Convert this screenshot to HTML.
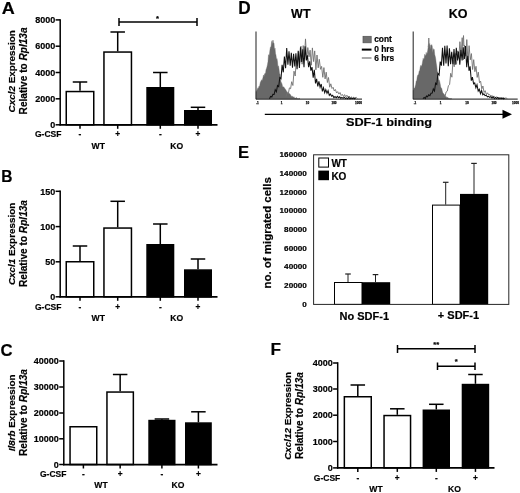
<!DOCTYPE html>
<html><head><meta charset="utf-8"><title>Figure</title>
<style>html,body{margin:0;padding:0;background:#fff;}body{width:520px;height:493px;overflow:hidden;font-family:"Liberation Sans",sans-serif;}svg{display:block;filter:grayscale(1) blur(0.35px);}</style>
</head><body>
<svg width="520" height="493" viewBox="0 0 520 493">
<rect width="520" height="493" fill="#fff"/>
<text x="1.8" y="13.9" font-size="16.7" text-anchor="start" font-family="Liberation Sans, sans-serif" font-weight="bold" stroke="#000" stroke-width="0.18"  textLength="13" lengthAdjust="spacingAndGlyphs">A</text>
<line x1="80.0" y1="82" x2="80.0" y2="90.8" stroke="#000" stroke-width="1.5" stroke-linecap="butt"/>
<line x1="72.75" y1="82" x2="87.25" y2="82" stroke="#000" stroke-width="1.5" stroke-linecap="butt"/>
<line x1="117.69999999999999" y1="32" x2="117.69999999999999" y2="51.3" stroke="#000" stroke-width="1.5" stroke-linecap="butt"/>
<line x1="110.44999999999999" y1="32" x2="124.94999999999999" y2="32" stroke="#000" stroke-width="1.5" stroke-linecap="butt"/>
<line x1="160.3" y1="72.5" x2="160.3" y2="87" stroke="#000" stroke-width="1.5" stroke-linecap="butt"/>
<line x1="153.05" y1="72.5" x2="167.55" y2="72.5" stroke="#000" stroke-width="1.5" stroke-linecap="butt"/>
<line x1="198.0" y1="107.3" x2="198.0" y2="110" stroke="#000" stroke-width="1.5" stroke-linecap="butt"/>
<line x1="190.75" y1="107.3" x2="205.25" y2="107.3" stroke="#000" stroke-width="1.5" stroke-linecap="butt"/>
<rect x="66.25" y="91.55" width="27.5" height="33.25" fill="#fff" stroke="#000" stroke-width="1.5"/>
<rect x="103.95" y="52.05" width="27.499999999999986" height="72.75" fill="#fff" stroke="#000" stroke-width="1.5"/>
<rect x="147.05" y="87.75" width="26.5" height="37.05" fill="#000" stroke="#000" stroke-width="1.5"/>
<rect x="184.75" y="110.75" width="26.5" height="14.049999999999997" fill="#000" stroke="#000" stroke-width="1.5"/>
<line x1="60.2" y1="19.15" x2="60.2" y2="125.55" stroke="#000" stroke-width="1.5" stroke-linecap="butt"/>
<line x1="59.45" y1="124.85" x2="217.5" y2="124.85" stroke="#000" stroke-width="1.7" stroke-linecap="butt"/>
<line x1="55.6" y1="19.9" x2="60.2" y2="19.9" stroke="#000" stroke-width="1.5" stroke-linecap="butt"/>
<text x="55.2" y="23.099999999999998" font-size="9" text-anchor="end" font-family="Liberation Sans, sans-serif" font-weight="bold" stroke="#000" stroke-width="0.18" >8000</text>
<line x1="55.6" y1="46.2" x2="60.2" y2="46.2" stroke="#000" stroke-width="1.5" stroke-linecap="butt"/>
<text x="55.2" y="49.400000000000006" font-size="9" text-anchor="end" font-family="Liberation Sans, sans-serif" font-weight="bold" stroke="#000" stroke-width="0.18" >6000</text>
<line x1="55.6" y1="72.5" x2="60.2" y2="72.5" stroke="#000" stroke-width="1.5" stroke-linecap="butt"/>
<text x="55.2" y="75.7" font-size="9" text-anchor="end" font-family="Liberation Sans, sans-serif" font-weight="bold" stroke="#000" stroke-width="0.18" >4000</text>
<line x1="55.6" y1="98.8" x2="60.2" y2="98.8" stroke="#000" stroke-width="1.5" stroke-linecap="butt"/>
<text x="55.2" y="102.0" font-size="9" text-anchor="end" font-family="Liberation Sans, sans-serif" font-weight="bold" stroke="#000" stroke-width="0.18" >2000</text>
<line x1="55.6" y1="124.8" x2="60.2" y2="124.8" stroke="#000" stroke-width="1.5" stroke-linecap="butt"/>
<text x="55.2" y="128.0" font-size="9" text-anchor="end" font-family="Liberation Sans, sans-serif" font-weight="bold" stroke="#000" stroke-width="0.18" >0</text>
<line x1="80.0" y1="124.8" x2="80.0" y2="128.8" stroke="#000" stroke-width="1.5" stroke-linecap="butt"/>
<line x1="117.69999999999999" y1="124.8" x2="117.69999999999999" y2="128.8" stroke="#000" stroke-width="1.5" stroke-linecap="butt"/>
<line x1="160.3" y1="124.8" x2="160.3" y2="128.8" stroke="#000" stroke-width="1.5" stroke-linecap="butt"/>
<line x1="198.0" y1="124.8" x2="198.0" y2="128.8" stroke="#000" stroke-width="1.5" stroke-linecap="butt"/>
<text transform="translate(14.6,71.30000000000001) rotate(-90)" font-size="9.9" text-anchor="middle" font-family="Liberation Sans, sans-serif" font-weight="bold" stroke="#000" stroke-width="0.18"><tspan font-style="italic">Cxcl2</tspan> Expression</text>
<text transform="translate(27.2,70.9) rotate(-90)" font-size="10.1" text-anchor="middle" font-family="Liberation Sans, sans-serif" font-weight="bold" stroke="#000" stroke-width="0.18">Relative to <tspan font-style="italic">Rpl13a</tspan></text>
<text x="35" y="137.1" font-size="8.5" text-anchor="start" font-family="Liberation Sans, sans-serif" font-weight="bold" stroke="#000" stroke-width="0.18" >G-CSF</text>
<text x="80.0" y="137.4" font-size="8.3" text-anchor="middle" font-family="Liberation Sans, sans-serif" font-weight="bold" stroke="#000" stroke-width="0.18" >-</text>
<text x="117.69999999999999" y="137.4" font-size="8.3" text-anchor="middle" font-family="Liberation Sans, sans-serif" font-weight="bold" stroke="#000" stroke-width="0.18" >+</text>
<text x="160.3" y="137.4" font-size="8.3" text-anchor="middle" font-family="Liberation Sans, sans-serif" font-weight="bold" stroke="#000" stroke-width="0.18" >-</text>
<text x="198.0" y="137.4" font-size="8.3" text-anchor="middle" font-family="Liberation Sans, sans-serif" font-weight="bold" stroke="#000" stroke-width="0.18" >+</text>
<text x="98.3" y="148.7" font-size="8.6" text-anchor="middle" font-family="Liberation Sans, sans-serif" font-weight="bold" stroke="#000" stroke-width="0.18" >WT</text>
<text x="176.8" y="148.7" font-size="8.6" text-anchor="middle" font-family="Liberation Sans, sans-serif" font-weight="bold" stroke="#000" stroke-width="0.18" >KO</text>
<line x1="119" y1="22" x2="197" y2="22" stroke="#000" stroke-width="1.5" stroke-linecap="butt"/>
<line x1="119" y1="18" x2="119" y2="26" stroke="#000" stroke-width="1.5" stroke-linecap="butt"/>
<line x1="197" y1="18" x2="197" y2="26" stroke="#000" stroke-width="1.5" stroke-linecap="butt"/>
<text x="157.4" y="20.5" font-size="7.6" text-anchor="middle" font-family="Liberation Sans, sans-serif" font-weight="bold" stroke="#000" stroke-width="0.18" >*</text>
<text x="1.2" y="182.2" font-size="16.8" text-anchor="start" font-family="Liberation Sans, sans-serif" font-weight="bold" stroke="#000" stroke-width="0.18"  textLength="11.2" lengthAdjust="spacingAndGlyphs">B</text>
<line x1="80.0" y1="246" x2="80.0" y2="261" stroke="#000" stroke-width="1.5" stroke-linecap="butt"/>
<line x1="72.75" y1="246" x2="87.25" y2="246" stroke="#000" stroke-width="1.5" stroke-linecap="butt"/>
<line x1="117.69999999999999" y1="201.3" x2="117.69999999999999" y2="227.3" stroke="#000" stroke-width="1.5" stroke-linecap="butt"/>
<line x1="110.44999999999999" y1="201.3" x2="124.94999999999999" y2="201.3" stroke="#000" stroke-width="1.5" stroke-linecap="butt"/>
<line x1="160.3" y1="224" x2="160.3" y2="244" stroke="#000" stroke-width="1.5" stroke-linecap="butt"/>
<line x1="153.05" y1="224" x2="167.55" y2="224" stroke="#000" stroke-width="1.5" stroke-linecap="butt"/>
<line x1="198.0" y1="259" x2="198.0" y2="269.3" stroke="#000" stroke-width="1.5" stroke-linecap="butt"/>
<line x1="190.75" y1="259" x2="205.25" y2="259" stroke="#000" stroke-width="1.5" stroke-linecap="butt"/>
<rect x="66.25" y="261.75" width="27.5" height="35.05000000000001" fill="#fff" stroke="#000" stroke-width="1.5"/>
<rect x="103.95" y="228.05" width="27.499999999999986" height="68.75" fill="#fff" stroke="#000" stroke-width="1.5"/>
<rect x="147.05" y="244.75" width="26.5" height="52.05000000000001" fill="#000" stroke="#000" stroke-width="1.5"/>
<rect x="184.75" y="270.05" width="26.5" height="26.75" fill="#000" stroke="#000" stroke-width="1.5"/>
<line x1="60.2" y1="190.55" x2="60.2" y2="297.55" stroke="#000" stroke-width="1.5" stroke-linecap="butt"/>
<line x1="59.45" y1="296.85" x2="217.5" y2="296.85" stroke="#000" stroke-width="1.7" stroke-linecap="butt"/>
<line x1="55.6" y1="191.3" x2="60.2" y2="191.3" stroke="#000" stroke-width="1.5" stroke-linecap="butt"/>
<text x="55.2" y="194.5" font-size="9" text-anchor="end" font-family="Liberation Sans, sans-serif" font-weight="bold" stroke="#000" stroke-width="0.18" >150</text>
<line x1="55.6" y1="226.6" x2="60.2" y2="226.6" stroke="#000" stroke-width="1.5" stroke-linecap="butt"/>
<text x="55.2" y="229.79999999999998" font-size="9" text-anchor="end" font-family="Liberation Sans, sans-serif" font-weight="bold" stroke="#000" stroke-width="0.18" >100</text>
<line x1="55.6" y1="261.8" x2="60.2" y2="261.8" stroke="#000" stroke-width="1.5" stroke-linecap="butt"/>
<text x="55.2" y="265.0" font-size="9" text-anchor="end" font-family="Liberation Sans, sans-serif" font-weight="bold" stroke="#000" stroke-width="0.18" >50</text>
<line x1="55.6" y1="296.8" x2="60.2" y2="296.8" stroke="#000" stroke-width="1.5" stroke-linecap="butt"/>
<text x="55.2" y="300.0" font-size="9" text-anchor="end" font-family="Liberation Sans, sans-serif" font-weight="bold" stroke="#000" stroke-width="0.18" >0</text>
<line x1="80.0" y1="296.8" x2="80.0" y2="300.8" stroke="#000" stroke-width="1.5" stroke-linecap="butt"/>
<line x1="117.69999999999999" y1="296.8" x2="117.69999999999999" y2="300.8" stroke="#000" stroke-width="1.5" stroke-linecap="butt"/>
<line x1="160.3" y1="296.8" x2="160.3" y2="300.8" stroke="#000" stroke-width="1.5" stroke-linecap="butt"/>
<line x1="198.0" y1="296.8" x2="198.0" y2="300.8" stroke="#000" stroke-width="1.5" stroke-linecap="butt"/>
<text transform="translate(14.6,243.9) rotate(-90)" font-size="9.9" text-anchor="middle" font-family="Liberation Sans, sans-serif" font-weight="bold" stroke="#000" stroke-width="0.18"><tspan font-style="italic">Cxcl1</tspan> Expression</text>
<text transform="translate(27.2,243.5) rotate(-90)" font-size="10.1" text-anchor="middle" font-family="Liberation Sans, sans-serif" font-weight="bold" stroke="#000" stroke-width="0.18">Relative to <tspan font-style="italic">Rpl13a</tspan></text>
<text x="35" y="309.6" font-size="8.5" text-anchor="start" font-family="Liberation Sans, sans-serif" font-weight="bold" stroke="#000" stroke-width="0.18" >G-CSF</text>
<text x="80.0" y="309.9" font-size="8.3" text-anchor="middle" font-family="Liberation Sans, sans-serif" font-weight="bold" stroke="#000" stroke-width="0.18" >-</text>
<text x="117.69999999999999" y="309.9" font-size="8.3" text-anchor="middle" font-family="Liberation Sans, sans-serif" font-weight="bold" stroke="#000" stroke-width="0.18" >+</text>
<text x="160.3" y="309.9" font-size="8.3" text-anchor="middle" font-family="Liberation Sans, sans-serif" font-weight="bold" stroke="#000" stroke-width="0.18" >-</text>
<text x="198.0" y="309.9" font-size="8.3" text-anchor="middle" font-family="Liberation Sans, sans-serif" font-weight="bold" stroke="#000" stroke-width="0.18" >+</text>
<text x="98.3" y="320.6" font-size="8.6" text-anchor="middle" font-family="Liberation Sans, sans-serif" font-weight="bold" stroke="#000" stroke-width="0.18" >WT</text>
<text x="176.8" y="320.6" font-size="8.6" text-anchor="middle" font-family="Liberation Sans, sans-serif" font-weight="bold" stroke="#000" stroke-width="0.18" >KO</text>
<text x="0.6" y="355.7" font-size="17.2" text-anchor="start" font-family="Liberation Sans, sans-serif" font-weight="bold" stroke="#000" stroke-width="0.18"  textLength="12.1" lengthAdjust="spacingAndGlyphs">C</text>
<line x1="120.15" y1="374.5" x2="120.15" y2="391.3" stroke="#000" stroke-width="1.5" stroke-linecap="butt"/>
<line x1="112.9" y1="374.5" x2="127.4" y2="374.5" stroke="#000" stroke-width="1.5" stroke-linecap="butt"/>
<line x1="161.9" y1="419" x2="161.9" y2="419.8" stroke="#000" stroke-width="1.5" stroke-linecap="butt"/>
<line x1="154.65" y1="419" x2="169.15" y2="419" stroke="#000" stroke-width="1.5" stroke-linecap="butt"/>
<line x1="198.4" y1="411.8" x2="198.4" y2="422.3" stroke="#000" stroke-width="1.5" stroke-linecap="butt"/>
<line x1="191.15" y1="411.8" x2="205.65" y2="411.8" stroke="#000" stroke-width="1.5" stroke-linecap="butt"/>
<rect x="70.05" y="426.75" width="26.700000000000003" height="37.75" fill="#fff" stroke="#000" stroke-width="1.5"/>
<rect x="106.95" y="392.05" width="26.39999999999999" height="72.44999999999999" fill="#fff" stroke="#000" stroke-width="1.5"/>
<rect x="149.05" y="420.55" width="25.69999999999999" height="43.94999999999999" fill="#000" stroke="#000" stroke-width="1.5"/>
<rect x="185.75" y="423.05" width="25.30000000000001" height="41.44999999999999" fill="#000" stroke="#000" stroke-width="1.5"/>
<line x1="63.8" y1="360.25" x2="63.8" y2="465.25" stroke="#000" stroke-width="1.5" stroke-linecap="butt"/>
<line x1="63.05" y1="464.55" x2="217.5" y2="464.55" stroke="#000" stroke-width="1.7" stroke-linecap="butt"/>
<line x1="59.199999999999996" y1="361" x2="63.8" y2="361" stroke="#000" stroke-width="1.5" stroke-linecap="butt"/>
<text x="58.8" y="364.2" font-size="9" text-anchor="end" font-family="Liberation Sans, sans-serif" font-weight="bold" stroke="#000" stroke-width="0.18" >40000</text>
<line x1="59.199999999999996" y1="387" x2="63.8" y2="387" stroke="#000" stroke-width="1.5" stroke-linecap="butt"/>
<text x="58.8" y="390.2" font-size="9" text-anchor="end" font-family="Liberation Sans, sans-serif" font-weight="bold" stroke="#000" stroke-width="0.18" >30000</text>
<line x1="59.199999999999996" y1="413" x2="63.8" y2="413" stroke="#000" stroke-width="1.5" stroke-linecap="butt"/>
<text x="58.8" y="416.2" font-size="9" text-anchor="end" font-family="Liberation Sans, sans-serif" font-weight="bold" stroke="#000" stroke-width="0.18" >20000</text>
<line x1="59.199999999999996" y1="438.8" x2="63.8" y2="438.8" stroke="#000" stroke-width="1.5" stroke-linecap="butt"/>
<text x="58.8" y="442.0" font-size="9" text-anchor="end" font-family="Liberation Sans, sans-serif" font-weight="bold" stroke="#000" stroke-width="0.18" >10000</text>
<line x1="59.199999999999996" y1="464.5" x2="63.8" y2="464.5" stroke="#000" stroke-width="1.5" stroke-linecap="butt"/>
<text x="58.8" y="467.7" font-size="9" text-anchor="end" font-family="Liberation Sans, sans-serif" font-weight="bold" stroke="#000" stroke-width="0.18" >0</text>
<line x1="83.4" y1="464.5" x2="83.4" y2="468.5" stroke="#000" stroke-width="1.5" stroke-linecap="butt"/>
<line x1="120.15" y1="464.5" x2="120.15" y2="468.5" stroke="#000" stroke-width="1.5" stroke-linecap="butt"/>
<line x1="161.9" y1="464.5" x2="161.9" y2="468.5" stroke="#000" stroke-width="1.5" stroke-linecap="butt"/>
<line x1="198.4" y1="464.5" x2="198.4" y2="468.5" stroke="#000" stroke-width="1.5" stroke-linecap="butt"/>
<text transform="translate(14.6,412.9) rotate(-90)" font-size="9.9" text-anchor="middle" font-family="Liberation Sans, sans-serif" font-weight="bold" stroke="#000" stroke-width="0.18"><tspan font-style="italic">Il8rb</tspan> Expression</text>
<text transform="translate(27.2,412.5) rotate(-90)" font-size="10.1" text-anchor="middle" font-family="Liberation Sans, sans-serif" font-weight="bold" stroke="#000" stroke-width="0.18">Relative to <tspan font-style="italic">Rpl13a</tspan></text>
<text x="40" y="476.6" font-size="8.5" text-anchor="start" font-family="Liberation Sans, sans-serif" font-weight="bold" stroke="#000" stroke-width="0.18" >G-CSF</text>
<text x="83.4" y="476.9" font-size="8.3" text-anchor="middle" font-family="Liberation Sans, sans-serif" font-weight="bold" stroke="#000" stroke-width="0.18" >-</text>
<text x="120.15" y="476.9" font-size="8.3" text-anchor="middle" font-family="Liberation Sans, sans-serif" font-weight="bold" stroke="#000" stroke-width="0.18" >+</text>
<text x="161.9" y="476.9" font-size="8.3" text-anchor="middle" font-family="Liberation Sans, sans-serif" font-weight="bold" stroke="#000" stroke-width="0.18" >-</text>
<text x="198.4" y="476.9" font-size="8.3" text-anchor="middle" font-family="Liberation Sans, sans-serif" font-weight="bold" stroke="#000" stroke-width="0.18" >+</text>
<text x="101" y="488.1" font-size="8.6" text-anchor="middle" font-family="Liberation Sans, sans-serif" font-weight="bold" stroke="#000" stroke-width="0.18" >WT</text>
<text x="178" y="488.1" font-size="8.6" text-anchor="middle" font-family="Liberation Sans, sans-serif" font-weight="bold" stroke="#000" stroke-width="0.18" >KO</text>
<text x="270.6" y="355" font-size="17.2" text-anchor="start" font-family="Liberation Sans, sans-serif" font-weight="bold" stroke="#000" stroke-width="0.18"  textLength="10.5" lengthAdjust="spacingAndGlyphs">F</text>
<line x1="357.8" y1="385" x2="357.8" y2="396" stroke="#000" stroke-width="1.5" stroke-linecap="butt"/>
<line x1="350.55" y1="385" x2="365.05" y2="385" stroke="#000" stroke-width="1.5" stroke-linecap="butt"/>
<line x1="397.3" y1="408.8" x2="397.3" y2="414.8" stroke="#000" stroke-width="1.5" stroke-linecap="butt"/>
<line x1="390.05" y1="408.8" x2="404.55" y2="408.8" stroke="#000" stroke-width="1.5" stroke-linecap="butt"/>
<line x1="436.3" y1="404.3" x2="436.3" y2="409.5" stroke="#000" stroke-width="1.5" stroke-linecap="butt"/>
<line x1="429.05" y1="404.3" x2="443.55" y2="404.3" stroke="#000" stroke-width="1.5" stroke-linecap="butt"/>
<line x1="475.45" y1="374.5" x2="475.45" y2="383.8" stroke="#000" stroke-width="1.5" stroke-linecap="butt"/>
<line x1="468.2" y1="374.5" x2="482.7" y2="374.5" stroke="#000" stroke-width="1.5" stroke-linecap="butt"/>
<rect x="344.35" y="396.75" width="26.899999999999977" height="71.14999999999998" fill="#fff" stroke="#000" stroke-width="1.5"/>
<rect x="384.05" y="415.55" width="26.5" height="52.349999999999966" fill="#fff" stroke="#000" stroke-width="1.5"/>
<rect x="423.35" y="410.25" width="25.899999999999977" height="57.64999999999998" fill="#000" stroke="#000" stroke-width="1.5"/>
<rect x="462.45" y="384.55" width="26.0" height="83.34999999999997" fill="#000" stroke="#000" stroke-width="1.5"/>
<line x1="337.7" y1="362.25" x2="337.7" y2="468.65" stroke="#000" stroke-width="1.5" stroke-linecap="butt"/>
<line x1="336.95" y1="467.95" x2="494.5" y2="467.95" stroke="#000" stroke-width="1.7" stroke-linecap="butt"/>
<line x1="333.09999999999997" y1="363" x2="337.7" y2="363" stroke="#000" stroke-width="1.5" stroke-linecap="butt"/>
<text x="332.7" y="366.2" font-size="9" text-anchor="end" font-family="Liberation Sans, sans-serif" font-weight="bold" stroke="#000" stroke-width="0.18" >4000</text>
<line x1="333.09999999999997" y1="389" x2="337.7" y2="389" stroke="#000" stroke-width="1.5" stroke-linecap="butt"/>
<text x="332.7" y="392.2" font-size="9" text-anchor="end" font-family="Liberation Sans, sans-serif" font-weight="bold" stroke="#000" stroke-width="0.18" >3000</text>
<line x1="333.09999999999997" y1="415.2" x2="337.7" y2="415.2" stroke="#000" stroke-width="1.5" stroke-linecap="butt"/>
<text x="332.7" y="418.4" font-size="9" text-anchor="end" font-family="Liberation Sans, sans-serif" font-weight="bold" stroke="#000" stroke-width="0.18" >2000</text>
<line x1="333.09999999999997" y1="441.5" x2="337.7" y2="441.5" stroke="#000" stroke-width="1.5" stroke-linecap="butt"/>
<text x="332.7" y="444.7" font-size="9" text-anchor="end" font-family="Liberation Sans, sans-serif" font-weight="bold" stroke="#000" stroke-width="0.18" >1000</text>
<line x1="333.09999999999997" y1="467.9" x2="337.7" y2="467.9" stroke="#000" stroke-width="1.5" stroke-linecap="butt"/>
<text x="332.7" y="471.09999999999997" font-size="9" text-anchor="end" font-family="Liberation Sans, sans-serif" font-weight="bold" stroke="#000" stroke-width="0.18" >0</text>
<line x1="357.8" y1="467.9" x2="357.8" y2="471.9" stroke="#000" stroke-width="1.5" stroke-linecap="butt"/>
<line x1="397.3" y1="467.9" x2="397.3" y2="471.9" stroke="#000" stroke-width="1.5" stroke-linecap="butt"/>
<line x1="436.3" y1="467.9" x2="436.3" y2="471.9" stroke="#000" stroke-width="1.5" stroke-linecap="butt"/>
<line x1="475.45" y1="467.9" x2="475.45" y2="471.9" stroke="#000" stroke-width="1.5" stroke-linecap="butt"/>
<text transform="translate(290.5,415.9) rotate(-90)" font-size="9.9" text-anchor="middle" font-family="Liberation Sans, sans-serif" font-weight="bold" stroke="#000" stroke-width="0.18"><tspan font-style="italic">Cxcl12</tspan> Expression</text>
<text transform="translate(302.5,415.5) rotate(-90)" font-size="10.1" text-anchor="middle" font-family="Liberation Sans, sans-serif" font-weight="bold" stroke="#000" stroke-width="0.18">Relative to <tspan font-style="italic">Rpl13a</tspan></text>
<text x="313.8" y="480.6" font-size="8.5" text-anchor="start" font-family="Liberation Sans, sans-serif" font-weight="bold" stroke="#000" stroke-width="0.18" >G-CSF</text>
<text x="357.8" y="480.9" font-size="8.3" text-anchor="middle" font-family="Liberation Sans, sans-serif" font-weight="bold" stroke="#000" stroke-width="0.18" >-</text>
<text x="397.3" y="480.9" font-size="8.3" text-anchor="middle" font-family="Liberation Sans, sans-serif" font-weight="bold" stroke="#000" stroke-width="0.18" >+</text>
<text x="436.3" y="480.9" font-size="8.3" text-anchor="middle" font-family="Liberation Sans, sans-serif" font-weight="bold" stroke="#000" stroke-width="0.18" >-</text>
<text x="475.45" y="480.9" font-size="8.3" text-anchor="middle" font-family="Liberation Sans, sans-serif" font-weight="bold" stroke="#000" stroke-width="0.18" >+</text>
<text x="376" y="491.8" font-size="8.6" text-anchor="middle" font-family="Liberation Sans, sans-serif" font-weight="bold" stroke="#000" stroke-width="0.18" >WT</text>
<text x="454.4" y="491.8" font-size="8.6" text-anchor="middle" font-family="Liberation Sans, sans-serif" font-weight="bold" stroke="#000" stroke-width="0.18" >KO</text>
<line x1="397.5" y1="348.8" x2="475" y2="348.8" stroke="#000" stroke-width="1.5" stroke-linecap="butt"/>
<line x1="397.5" y1="345" x2="397.5" y2="353" stroke="#000" stroke-width="1.5" stroke-linecap="butt"/>
<line x1="475" y1="345" x2="475" y2="353" stroke="#000" stroke-width="1.5" stroke-linecap="butt"/>
<text x="436.3" y="347.4" font-size="7.6" text-anchor="middle" font-family="Liberation Sans, sans-serif" font-weight="bold" stroke="#000" stroke-width="0.18" >**</text>
<line x1="437.5" y1="366.3" x2="475" y2="366.3" stroke="#000" stroke-width="1.5" stroke-linecap="butt"/>
<line x1="437.5" y1="362.5" x2="437.5" y2="370" stroke="#000" stroke-width="1.5" stroke-linecap="butt"/>
<line x1="475" y1="362.5" x2="475" y2="370" stroke="#000" stroke-width="1.5" stroke-linecap="butt"/>
<text x="456.3" y="364.4" font-size="7.6" text-anchor="middle" font-family="Liberation Sans, sans-serif" font-weight="bold" stroke="#000" stroke-width="0.18" >*</text>
<text x="238.1" y="157.9" font-size="16.8" text-anchor="start" font-family="Liberation Sans, sans-serif" font-weight="bold" stroke="#000" stroke-width="0.18"  textLength="11.1" lengthAdjust="spacingAndGlyphs">E</text>
<line x1="348" y1="274" x2="348" y2="282" stroke="#222" stroke-width="1" stroke-linecap="butt"/>
<line x1="345.2" y1="274" x2="350.8" y2="274" stroke="#222" stroke-width="1.2" stroke-linecap="butt"/>
<line x1="375.5" y1="274.6" x2="375.5" y2="282" stroke="#222" stroke-width="1" stroke-linecap="butt"/>
<line x1="372.7" y1="274.6" x2="378.3" y2="274.6" stroke="#222" stroke-width="1.2" stroke-linecap="butt"/>
<line x1="445.7" y1="182.3" x2="445.7" y2="204.6" stroke="#222" stroke-width="1" stroke-linecap="butt"/>
<line x1="442.9" y1="182.3" x2="448.5" y2="182.3" stroke="#222" stroke-width="1.2" stroke-linecap="butt"/>
<line x1="474" y1="163.4" x2="474" y2="193.9" stroke="#222" stroke-width="1" stroke-linecap="butt"/>
<line x1="471.2" y1="163.4" x2="476.8" y2="163.4" stroke="#222" stroke-width="1.2" stroke-linecap="butt"/>
<rect x="334.5" y="282.5" width="27.5" height="21.9" fill="#fff" stroke="#000" stroke-width="1"/>
<rect x="362" y="282.2" width="28.2" height="22.2" fill="#000" stroke="#000" stroke-width="0"/>
<rect x="432.5" y="205.1" width="27.5" height="99.3" fill="#fff" stroke="#000" stroke-width="1"/>
<rect x="460" y="193.9" width="28.2" height="110.5" fill="#000" stroke="#000" stroke-width="0"/>
<rect x="313.6" y="154.8" width="195.2" height="149.6" fill="none" stroke="#262626" stroke-width="1"/>
<text x="306.8" y="157.15" font-size="6.5" text-anchor="end" font-family="Liberation Sans, sans-serif" font-weight="bold" stroke="#000" stroke-width="0.18"  textLength="27.2" lengthAdjust="spacingAndGlyphs">160000</text>
<text x="306.8" y="175.85" font-size="6.5" text-anchor="end" font-family="Liberation Sans, sans-serif" font-weight="bold" stroke="#000" stroke-width="0.18"  textLength="27.2" lengthAdjust="spacingAndGlyphs">140000</text>
<text x="306.8" y="194.55" font-size="6.5" text-anchor="end" font-family="Liberation Sans, sans-serif" font-weight="bold" stroke="#000" stroke-width="0.18"  textLength="27.2" lengthAdjust="spacingAndGlyphs">120000</text>
<text x="306.8" y="213.25" font-size="6.5" text-anchor="end" font-family="Liberation Sans, sans-serif" font-weight="bold" stroke="#000" stroke-width="0.18"  textLength="27.2" lengthAdjust="spacingAndGlyphs">100000</text>
<text x="306.8" y="231.95000000000002" font-size="6.5" text-anchor="end" font-family="Liberation Sans, sans-serif" font-weight="bold" stroke="#000" stroke-width="0.18"  textLength="22.7" lengthAdjust="spacingAndGlyphs">80000</text>
<text x="306.8" y="250.65" font-size="6.5" text-anchor="end" font-family="Liberation Sans, sans-serif" font-weight="bold" stroke="#000" stroke-width="0.18"  textLength="22.7" lengthAdjust="spacingAndGlyphs">60000</text>
<text x="306.8" y="269.35" font-size="6.5" text-anchor="end" font-family="Liberation Sans, sans-serif" font-weight="bold" stroke="#000" stroke-width="0.18"  textLength="22.7" lengthAdjust="spacingAndGlyphs">40000</text>
<text x="306.8" y="288.05000000000007" font-size="6.5" text-anchor="end" font-family="Liberation Sans, sans-serif" font-weight="bold" stroke="#000" stroke-width="0.18"  textLength="22.7" lengthAdjust="spacingAndGlyphs">20000</text>
<text x="306.8" y="306.75" font-size="6.5" text-anchor="end" font-family="Liberation Sans, sans-serif" font-weight="bold" stroke="#000" stroke-width="0.18"  textLength="4.5" lengthAdjust="spacingAndGlyphs">0</text>
<rect x="318.8" y="158" width="9.7" height="9.1" fill="#fff" stroke="#000" stroke-width="1"/>
<text x="331.4" y="167" font-size="10" text-anchor="start" font-family="Liberation Sans, sans-serif" font-weight="bold" stroke="#000" stroke-width="0.18" >WT</text>
<rect x="318.3" y="170.6" width="10.7" height="9.6" fill="#000" stroke="#000" stroke-width="0"/>
<text x="331.4" y="179.8" font-size="10" text-anchor="start" font-family="Liberation Sans, sans-serif" font-weight="bold" stroke="#000" stroke-width="0.18" >KO</text>
<text transform="translate(270.7,288.5) rotate(-90)" font-size="11.4" text-anchor="start" textLength="111.3" lengthAdjust="spacingAndGlyphs" font-family="Liberation Sans, sans-serif" font-weight="bold" stroke="#000" stroke-width="0.18">no. of migrated cells</text>
<text x="364.3" y="320.4" font-size="11" text-anchor="middle" font-family="Liberation Sans, sans-serif" font-weight="bold" stroke="#000" stroke-width="0.18" >No SDF-1</text>
<text x="458.5" y="319.2" font-size="11" text-anchor="middle" font-family="Liberation Sans, sans-serif" font-weight="bold" stroke="#000" stroke-width="0.18" >+ SDF-1</text>
<text x="238.2" y="14" font-size="17.5" text-anchor="start" font-family="Liberation Sans, sans-serif" font-weight="bold" stroke="#000" stroke-width="0.18"  textLength="12.4" lengthAdjust="spacingAndGlyphs">D</text>
<text x="300.8" y="18.3" font-size="12.5" text-anchor="middle" font-family="Liberation Sans, sans-serif" font-weight="bold" stroke="#000" stroke-width="0.18" >WT</text>
<text x="458" y="18.3" font-size="12.5" text-anchor="middle" font-family="Liberation Sans, sans-serif" font-weight="bold" stroke="#000" stroke-width="0.18" >KO</text>
<rect x="363" y="36.3" width="8.2" height="6.5" fill="#707070" stroke="#505050" stroke-width="0.7"/>
<text x="374.2" y="42" font-size="8.4" text-anchor="start" font-family="Liberation Sans, sans-serif" font-weight="bold" stroke="#000" stroke-width="0.18" >cont</text>
<line x1="361.8" y1="49.6" x2="371.5" y2="49.6" stroke="#000" stroke-width="2.0" stroke-linecap="butt"/>
<text x="374.2" y="52.2" font-size="8.4" text-anchor="start" font-family="Liberation Sans, sans-serif" font-weight="bold" stroke="#000" stroke-width="0.18" >0 hrs</text>
<line x1="361.8" y1="58" x2="371.5" y2="58" stroke="#707070" stroke-width="1.2" stroke-linecap="butt"/>
<text x="374.2" y="60.9" font-size="8.4" text-anchor="start" font-family="Liberation Sans, sans-serif" font-weight="bold" stroke="#000" stroke-width="0.18" >6 hrs</text>
<line x1="264.8" y1="114.4" x2="503" y2="114.4" stroke="#000" stroke-width="1.1" stroke-linecap="butt"/>
<polygon points="502.5,109.8 512,114.3 502.5,118.8" fill="#000"/>
<text x="346" y="126.2" font-size="11.4" text-anchor="start" font-family="Liberation Sans, sans-serif" font-weight="bold" stroke="#000" stroke-width="0.18"  textLength="85.9" lengthAdjust="spacingAndGlyphs">SDF-1 binding</text>
<path d="M256.0,91.7 L256.5,91.2 L257.0,89.9 L257.5,88.8 L258.0,87.7 L258.5,88.6 L259.0,86.0 L259.5,86.7 L260.0,84.0 L260.5,81.8 L261.0,81.3 L261.5,79.7 L262.0,81.1 L262.5,79.3 L263.0,77.5 L263.5,75.0 L264.0,76.7 L264.5,74.0 L265.0,73.3 L265.5,73.6 L266.0,69.8 L266.5,68.4 L267.0,66.8 L267.5,64.4 L268.0,61.6 L268.5,54.7 L269.0,55.9 L269.5,53.8 L270.0,49.5 L270.5,46.9 L271.0,47.3 L271.5,42.5 L272.0,40.7 L272.5,44.4 L273.0,40.0 L273.5,43.3 L274.0,43.0 L274.5,50.1 L275.0,48.1 L275.5,53.5 L276.0,55.3 L276.5,59.6 L277.0,58.6 L277.5,61.7 L278.0,67.5 L278.5,65.8 L279.0,69.0 L279.5,73.5 L280.0,74.0 L280.5,77.7 L281.0,82.0 L281.5,82.7 L282.0,83.9 L282.5,86.2 L283.0,87.2 L283.5,86.7 L284.0,87.3 L284.5,88.3 L285.0,88.6 L285.5,89.4 L286.0,89.9 L286.5,91.6 L287.0,91.5 L287.5,92.3 L288.0,93.5 L288.5,93.3 L289.0,93.0 L289.5,93.9 L290.0,93.9 L290.5,95.1 L291.0,95.4 L291.5,96.4 L292.0,96.3 L292.5,96.2 L293.0,96.9 L293.5,97.2 L294.0,96.7 L294.5,97.9 L295.0,97.9 L295.5,98.1 L296.0,98.0 L296.5,97.5 L297.0,97.9 L297.5,98.8 L298.0,98.8 L298.5,98.8 L299.0,98.3 L299.5,98.4 L300.0,98.8 L300.0,98.8 L256.0,98.8 Z" fill="#686868" stroke="#686868" stroke-width="0.4"/>
<path d="M286.0,96.7 L287.1,93.0 L288.3,93.9 L289.4,87.9 L290.6,88.7 L291.7,81.7 L292.9,85.5 L294.0,71.2 L295.2,76.0 L296.3,60.5 L297.5,65.8 L298.6,51.6 L299.8,62.3 L300.9,46.1 L302.1,64.2 L303.2,45.6 L304.4,57.4 L305.5,38.9 L306.7,60.1 L307.8,47.6 L309.0,56.8 L310.1,50.2 L311.3,65.2 L312.4,47.9 L313.6,61.6 L314.7,50.9 L315.9,69.8 L317.0,55.0 L318.2,67.8 L319.3,59.3 L320.5,69.3 L321.6,66.4 L322.8,77.3 L323.9,67.6 L325.1,78.9 L326.2,72.2 L327.4,82.5 L328.5,77.5 L329.7,87.2 L330.8,83.8 L332.0,88.5 L333.1,87.3 L334.3,91.0 L335.4,89.5 L336.6,93.0 L337.7,91.6 L338.9,94.1 L340.0,92.5 L341.2,95.5 L342.3,94.4 L343.5,96.5 L344.6,94.6 L345.8,96.8 L346.9,95.2 L348.1,97.3 L349.2,96.0 L350.4,97.8 L351.5,97.0 L352.7,98.1 L353.8,97.2 L355.0,98.1 L356.1,97.2 L357.3,98.5" fill="none" stroke="#707070" stroke-width="0.9" stroke-linejoin="miter"/>
<path d="M269.5,98.8 L270.6,96.4 L271.8,97.0 L272.9,94.3 L274.1,94.5 L275.2,89.7 L276.4,91.8 L277.5,85.5 L278.7,86.6 L279.8,77.5 L281.0,78.6 L282.1,64.9 L283.3,72.3 L284.4,56.5 L285.6,68.3 L286.7,48.0 L287.9,64.6 L289.0,51.2 L290.2,65.7 L291.3,52.7 L292.5,67.6 L293.6,53.8 L294.8,66.5 L295.9,53.2 L297.1,69.3 L298.2,50.7 L299.4,68.0 L300.5,47.3 L301.7,62.0 L302.8,49.4 L304.0,67.2 L305.1,46.3 L306.3,60.5 L307.4,55.3 L308.6,67.2 L309.7,61.4 L310.9,70.6 L312.0,67.1 L313.2,77.7 L314.3,69.9 L315.5,83.5 L316.6,78.9 L317.8,86.5 L318.9,81.3 L320.1,87.2 L321.2,84.0 L322.4,91.3 L323.5,87.8 L324.7,92.7 L325.8,89.6 L327.0,93.3 L328.1,90.7 L329.3,95.3 L330.4,94.0 L331.6,96.2 L332.7,95.4 L333.9,97.6 L335.0,96.6 L336.2,97.8 L337.3,96.4 L338.5,97.7 L339.6,96.8 L340.8,98.2 L341.9,97.4 L343.1,98.3 L344.2,97.2 L345.4,98.6 L346.5,97.8 L347.7,98.8 L348.8,97.4 L350.0,98.8 L351.1,98.0 L352.3,98.7 L353.4,98.1 L354.6,98.8 L355.7,98.1" fill="none" stroke="#111" stroke-width="1.05" stroke-linejoin="miter"/>
<line x1="256" y1="31.5" x2="256" y2="99.3" stroke="#333" stroke-width="1.1" stroke-linecap="butt"/>
<line x1="256" y1="99.1" x2="362" y2="99.1" stroke="#111" stroke-width="1.0" stroke-linecap="butt"/>
<text x="257.5" y="103.7" font-size="3.1" text-anchor="middle" font-family="Liberation Sans, sans-serif" font-weight="bold" fill="#111" stroke="#111" stroke-width="0.25">.1</text>
<text x="281.5" y="103.7" font-size="3.1" text-anchor="middle" font-family="Liberation Sans, sans-serif" font-weight="bold" fill="#111" stroke="#111" stroke-width="0.25">1</text>
<text x="307.5" y="103.7" font-size="3.1" text-anchor="middle" font-family="Liberation Sans, sans-serif" font-weight="bold" fill="#111" stroke="#111" stroke-width="0.25">10</text>
<text x="334" y="103.7" font-size="3.1" text-anchor="middle" font-family="Liberation Sans, sans-serif" font-weight="bold" fill="#111" stroke="#111" stroke-width="0.25">100</text>
<text x="358.5" y="103.7" font-size="3.1" text-anchor="middle" font-family="Liberation Sans, sans-serif" font-weight="bold" fill="#111" stroke="#111" stroke-width="0.25">1000</text>
<path d="M413.2,90.3 L413.7,90.6 L414.2,88.0 L414.7,88.3 L415.2,86.3 L415.7,84.5 L416.2,80.9 L416.7,80.9 L417.2,77.1 L417.7,75.2 L418.2,74.9 L418.7,73.7 L419.2,71.0 L419.7,70.8 L420.2,67.3 L420.7,65.5 L421.2,65.5 L421.7,66.6 L422.2,63.8 L422.7,60.9 L423.2,58.2 L423.7,60.1 L424.2,58.3 L424.7,54.3 L425.2,54.9 L425.7,56.2 L426.2,52.4 L426.7,54.9 L427.2,52.9 L427.7,50.5 L428.2,46.8 L428.7,44.4 L429.2,45.3 L429.7,43.4 L430.2,49.6 L430.7,45.1 L431.2,45.4 L431.7,44.6 L432.2,46.1 L432.7,52.9 L433.2,48.6 L433.7,50.3 L434.2,49.4 L434.7,54.5 L435.2,56.3 L435.7,58.8 L436.2,63.1 L436.7,65.9 L437.2,70.6 L437.7,74.2 L438.2,76.8 L438.7,79.8 L439.2,79.9 L439.7,81.6 L440.2,84.0 L440.7,87.1 L441.2,88.1 L441.7,88.3 L442.2,90.5 L442.7,92.5 L443.2,93.0 L443.7,94.0 L444.2,94.2 L444.7,95.1 L445.2,96.2 L445.7,96.6 L446.2,96.6 L446.7,97.4 L447.2,97.5 L447.7,97.3 L448.2,97.8 L448.7,98.6 L449.2,98.7 L449.7,98.5 L450.2,98.5 L450.7,98.8 L451.2,98.8 L451.7,98.5 L451.7,98.8 L413.2,98.8 Z" fill="#686868" stroke="#686868" stroke-width="0.4"/>
<path d="M445.0,96.6 L446.1,92.0 L447.3,91.1 L448.4,85.7 L449.6,84.6 L450.7,73.3 L451.9,77.2 L453.0,60.2 L454.2,66.8 L455.3,53.5 L456.5,64.3 L457.6,50.9 L458.8,58.3 L459.9,41.7 L461.1,55.4 L462.2,37.7 L463.4,59.8 L464.5,45.2 L465.7,56.1 L466.8,39.6 L468.0,62.3 L469.1,45.7 L470.3,59.8 L471.4,53.6 L472.6,69.5 L473.7,59.7 L474.9,71.7 L476.0,66.3 L477.2,77.4 L478.3,72.1 L479.5,82.7 L480.6,81.2 L481.8,88.9 L482.9,86.0 L484.1,92.5 L485.2,90.7 L486.4,94.6 L487.5,92.8 L488.7,94.9 L489.8,94.6 L491.0,96.4 L492.1,95.4 L493.3,97.1 L494.4,96.4 L495.6,97.7 L496.7,96.8 L497.9,98.5 L499.0,97.5 L500.2,98.8 L501.3,97.3 L502.5,98.5 L503.6,97.4 L504.8,98.8 L505.9,97.6 L507.1,98.8" fill="none" stroke="#707070" stroke-width="0.9" stroke-linejoin="miter"/>
<path d="M423.0,98.8 L424.1,97.4 L425.3,98.5 L426.4,96.0 L427.6,96.8 L428.7,94.8 L429.9,95.7 L431.0,93.2 L432.2,93.1 L433.3,88.9 L434.5,91.0 L435.6,83.1 L436.8,84.3 L437.9,73.4 L439.1,75.1 L440.2,61.6 L441.4,65.6 L442.5,47.8 L443.7,65.6 L444.8,45.7 L446.0,63.4 L447.1,45.6 L448.3,66.3 L449.4,48.4 L450.6,64.1 L451.7,51.9 L452.9,64.1 L454.0,49.0 L455.2,64.7 L456.3,47.8 L457.5,60.4 L458.6,51.5 L459.8,64.8 L460.9,49.8 L462.1,60.4 L463.2,47.3 L464.4,59.0 L465.5,46.1 L466.7,67.1 L467.8,55.7 L469.0,70.8 L470.1,66.3 L471.3,80.7 L472.4,77.1 L473.6,83.9 L474.7,83.0 L475.9,87.7 L477.0,84.7 L478.2,91.0 L479.3,89.3 L480.5,93.7 L481.6,90.6 L482.8,94.9 L483.9,93.9 L485.1,95.7 L486.2,95.3 L487.4,96.9 L488.5,96.3 L489.7,97.4 L490.8,96.6 L492.0,98.1 L493.1,96.6 L494.3,98.7 L495.4,97.5 L496.6,98.6 L497.7,97.5 L498.9,98.7 L500.0,97.8 L501.2,98.6 L502.3,98.0 L503.5,98.8 L504.6,98.2" fill="none" stroke="#111" stroke-width="1.05" stroke-linejoin="miter"/>
<path d="M428.3,47 L428.8,38 L429.3,47 M463,46 L463.5,35.5 L464,46" fill="none" stroke="#6e6e6e" stroke-width="0.8"/>
<line x1="413.2" y1="31.5" x2="413.2" y2="99.3" stroke="#333" stroke-width="1.1" stroke-linecap="butt"/>
<line x1="413.2" y1="99.1" x2="517.7" y2="99.1" stroke="#111" stroke-width="1.0" stroke-linecap="butt"/>
<text x="415" y="103.7" font-size="3.1" text-anchor="middle" font-family="Liberation Sans, sans-serif" font-weight="bold" fill="#111" stroke="#111" stroke-width="0.25">.1</text>
<text x="440.5" y="103.7" font-size="3.1" text-anchor="middle" font-family="Liberation Sans, sans-serif" font-weight="bold" fill="#111" stroke="#111" stroke-width="0.25">1</text>
<text x="467" y="103.7" font-size="3.1" text-anchor="middle" font-family="Liberation Sans, sans-serif" font-weight="bold" fill="#111" stroke="#111" stroke-width="0.25">10</text>
<text x="494" y="103.7" font-size="3.1" text-anchor="middle" font-family="Liberation Sans, sans-serif" font-weight="bold" fill="#111" stroke="#111" stroke-width="0.25">100</text>
<text x="515.5" y="103.7" font-size="3.1" text-anchor="middle" font-family="Liberation Sans, sans-serif" font-weight="bold" fill="#111" stroke="#111" stroke-width="0.25">1000</text>
</svg>
</body></html>
